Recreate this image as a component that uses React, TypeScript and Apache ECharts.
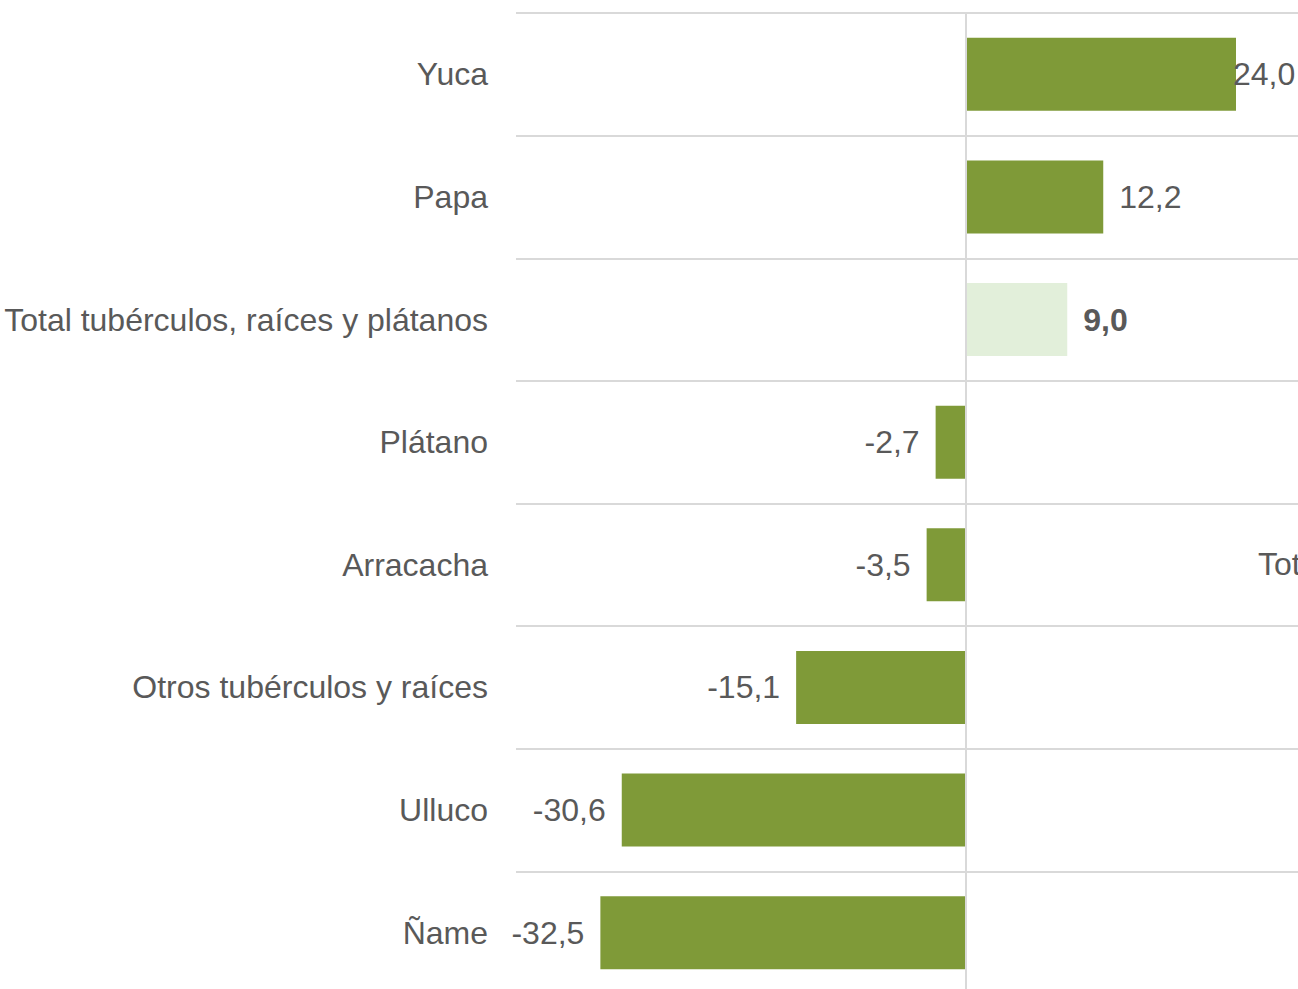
import React, { useEffect, useRef } from "react";
import * as echarts from "echarts";

const categories = [
  "Yuca",
  "Papa",
  "Total tubérculos, raíces y plátanos",
  "Plátano",
  "Arracacha",
  "Otros tubérculos y raíces",
  "Ulluco",
  "Ñame",
];
const values = [24.0, 12.2, 9.0, -2.7, -3.5, -15.1, -30.6, -32.5];
const totalCategory = "Total tubérculos, raíces y plátanos";

const GREEN = "#7F9A38";
const LIGHT = "#E2EFDA";
const TEXT = "#595959";
const LINE = "#D9D9D9";
const FONT = "Arial, 'Liberation Sans', sans-serif";

const fmt = (v: number) => v.toFixed(1).replace(".", ",");

export default function App() {
  const ref = useRef<HTMLDivElement>(null);
  useEffect(() => {
    if (!ref.current) return;
    const chart = echarts.init(ref.current, undefined, { renderer: "svg" });
    const data = categories.map((c, i) => {
      const v = values[i];
      const isTotal = c === totalCategory;
      const item: any = {
        value: v,
        itemStyle: { color: isTotal ? LIGHT : GREEN },
        label: {
          show: true,
          position: v >= 0 ? "right" : "left",
          distance: 16,
          fontWeight: isTotal ? "bold" : "normal",
        },
      };
      if (i === 0) item.label.offset = [-19, 0];
      return item;
    });
    chart.setOption({
      animation: false,
      grid: { left: 516, top: 13, width: 900, height: 981 },
      xAxis: {
        type: "value",
        min: -40,
        max: 40,
        axisLabel: { show: false },
        axisLine: { show: false },
        axisTick: { show: false },
        splitLine: { show: false },
      },
      yAxis: {
        type: "category",
        data: categories,
        inverse: true,
        axisLine: { show: false },
        axisTick: { show: false },
        splitLine: { show: true, lineStyle: { color: LINE, width: 2 } },
        axisLabel: {
          fontSize: 32,
          color: TEXT,
          margin: 28,
          fontFamily: FONT,
        },
      },
      series: [
        {
          type: "bar",
          data,
          barWidth: 73,
          label: {
            fontSize: 32,
            color: TEXT,
            fontFamily: FONT,
            formatter: (p: any) => fmt(p.value),
          },
          markLine: {
            silent: true,
            symbol: "none",
            label: { show: false },
            lineStyle: { color: LINE, width: 2, type: "solid" },
            data: [{ xAxis: 0 }],
          },
        },
      ],
      graphic: [
        {
          type: "text",
          left: 1258,
          top: 548,
          style: {
            text: "Total",
            fontSize: 32,
            fill: TEXT,
            fontFamily: FONT,
          },
        },
      ],
    });
    return () => chart.dispose();
  }, []);
  return (
    <div
      style={{
        position: "fixed",
        left: 0,
        top: 0,
        width: 1298,
        height: 989,
        overflow: "hidden",
        background: "#fff",
      }}
    >
      <div ref={ref} style={{ width: 1440, height: 1010 }} />
    </div>
  );
}
